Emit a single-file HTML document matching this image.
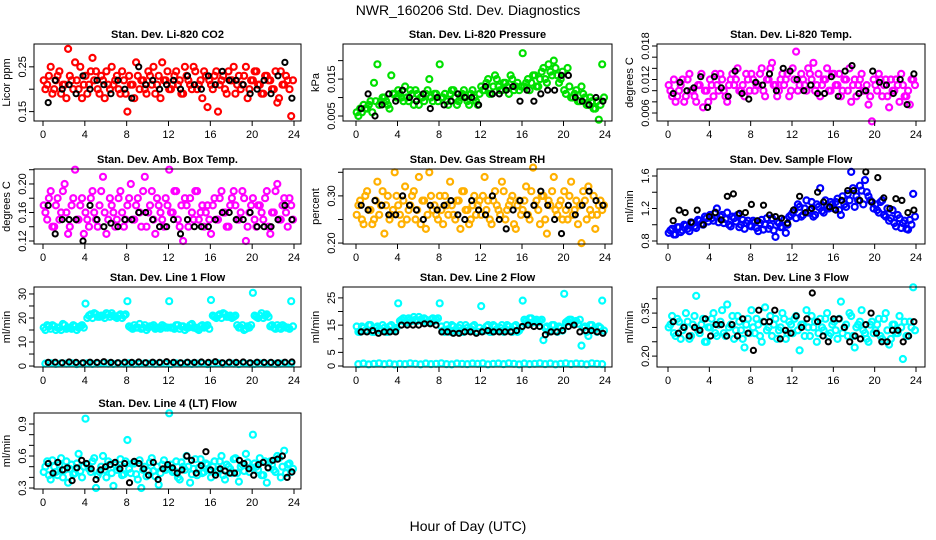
<!DOCTYPE html>
<html><head><meta charset="utf-8"><style>
html,body{margin:0;padding:0;background:#fff;}
svg{display:block;font-family:"Liberation Sans",sans-serif;}
</style></head><body>
<svg id="chart" width="936" height="540" viewBox="0 0 936 540">
<text x="468" y="15" text-anchor="middle" font-size="14">NWR_160206 Std. Dev. Diagnostics</text>
<text x="468" y="531" text-anchor="middle" font-size="14">Hour of Day (UTC)</text>
</svg>
<script>
const hourTicks = [0,4,8,12,16,20,24];
const co2Vals = [.22,.21,.25,.20,.23,.19,.21,.29,.22,.26,.20,.18,.23,.21,.27,.24,.19,.22,.24,.20,.21,.23,.19,.22,.15,.21,.18,.23,.22,.20,.24,.21,.19,.23,.26,.22,.20,.21,.24,.22,.19,.23,.21,.25,.20,.22,.24,.16,.21,.23,.15,.22,.20,.24,.22,.19,.23,.21,.25,.20,.22,.24,.21,.19,.23,.22,.20,.17,.24,.21,.22,.14];
const co2ValsB = [.20,.23,.19,.22,.24,.21,.18,.23,.20,.22,.25,.21,.19,.24,.22,.20,.23,.18,.21,.25,.22,.20,.24,.19,.23,.21,.26,.20,.22,.19,.23,.25,.21,.18,.22,.24,.20,.23,.21,.19,.25,.22,.20,.24,.21,.18,.23,.22,.20,.24,.21,.23,.19,.22,.25,.21,.20,.23,.18,.22,.24,.21,.19,.23,.22,.20,.24,.18,.21,.23,.20,.22];
const co2Black = [.17,.22,.20,.21,.19,.23,.20,.22,.21,.19,.22,.20,.18,.25,.21,.22,.20,.21,.22,.20,.23,.21,.20,.23,.21,.24,.22,.22,.21,.19,.20,.22,.19,.23,.26,.18];
const presVals = [.006,.007,.008,.007,.009,.014,.019,.009,.010,.008,.016,.011,.012,.010,.013,.009,.011,.012,.008,.010,.011,.015,.009,.011,.019,.010,.009,.011,.012,.008,.010,.012,.009,.011,.010,.008,.013,.012,.015,.011,.016,.013,.012,.014,.011,.015,.013,.012,.022,.014,.012,.016,.013,.015,.018,.014,.017,.020,.016,.015,.012,.018,.010,.011,.009,.013,.010,.008,.009,.007,.004,.019];
const presValsB = [.005,.006,.007,.008,.006,.009,.008,.010,.009,.007,.011,.010,.011,.009,.010,.012,.008,.011,.010,.009,.012,.010,.011,.009,.010,.011,.008,.012,.010,.009,.011,.010,.008,.012,.009,.011,.012,.014,.011,.013,.015,.012,.014,.013,.016,.012,.014,.013,.013,.015,.014,.016,.013,.017,.015,.019,.016,.018,.014,.017,.011,.013,.010,.012,.009,.011,.008,.010,.007,.009,.008,.010];
const presBlack = [.007,.011,.005,.008,.011,.009,.012,.010,.009,.011,.007,.010,.008,.009,.011,.010,.010,.008,.013,.011,.011,.012,.013,.009,.012,.009,.011,.012,.012,.016,.016,.010,.009,.008,.010,.009];
const tempVals = [.011,.009,.008,.010,.012,.009,.013,.010,.008,.011,.007,.010,.012,.009,.011,.013,.010,.008,.012,.011,.014,.010,.009,.012,.013,.010,.011,.014,.009,.012,.015,.011,.010,.013,.012,.009,.014,.017,.011,.012,.010,.013,.015,.011,.009,.012,.014,.010,.013,.011,.009,.012,.010,.008,.012,.011,.013,.010,.0075,.0045,.011,.013,.009,.012,.007,.010,.012,.008,.011,.009,.0075,.012];
const tempValsB = [.010,.012,.009,.011,.008,.012,.010,.009,.011,.013,.010,.008,.011,.013,.010,.012,.009,.011,.013,.012,.010,.011,.013,.010,.012,.011,.013,.010,.012,.014,.011,.009,.012,.011,.013,.010,.012,.010,.013,.011,.014,.012,.010,.013,.011,.012,.010,.013,.011,.013,.010,.012,.014,.011,.009,.012,.010,.011,.009,.012,.010,.012,.011,.009,.012,.010,.011,.013,.009,.010,.012,.011];
const tempBlack = [.0095,.0115,.010,.0105,.0125,.007,.0125,.0105,.009,.0135,.0095,.0085,.0115,.011,.013,.010,.014,.0135,.012,.010,.011,.0095,.0095,.0125,.009,.0135,.0145,.0095,.010,.0135,.0115,.011,.0095,.012,.0075,.013];
const boxVals = [.17,.15,.19,.14,.18,.16,.20,.13,.17,.22,.15,.18,.16,.14,.19,.15,.17,.21,.13,.18,.16,.15,.19,.14,.17,.20,.15,.18,.14,.21,.16,.19,.13,.17,.15,.18,.22,.16,.19,.14,.12,.17,.18,.15,.19,.16,.14,.17,.13,.18,.15,.19,.16,.14,.18,.17,.15,.19,.12,.16,.18,.14,.17,.15,.19,.13,.16,.20,.15,.18,.14,.17];
const boxValsB = [.16,.18,.14,.17,.15,.19,.16,.14,.18,.15,.17,.13,.15,.18,.16,.14,.19,.16,.15,.17,.14,.18,.16,.15,.18,.15,.17,.16,.19,.14,.17,.15,.18,.16,.14,.17,.16,.19,.15,.17,.18,.14,.16,.19,.15,.17,.16,.15,.17,.15,.18,.16,.14,.17,.19,.15,.16,.18,.14,.17,.15,.17,.16,.18,.14,.16,.19,.15,.17,.16,.18,.15];
const boxBlack = [.17,.13,.15,.15,.15,.12,.17,.15,.14,.145,.14,.15,.15,.16,.16,.15,.14,.14,.15,.13,.15,.14,.14,.14,.15,.16,.16,.15,.15,.16,.14,.14,.14,.15,.17,.15];
const rhVals = [.26,.29,.24,.31,.27,.25,.33,.28,.22,.30,.26,.35,.28,.24,.32,.27,.30,.25,.34,.29,.23,.35,.27,.26,.30,.24,.28,.33,.26,.29,.23,.31,.27,.25,.30,.28,.26,.34,.29,.24,.31,.27,.33,.25,.28,.30,.23,.29,.27,.32,.25,.36,.29,.24,.30,.22,.28,.34,.26,.29,.31,.25,.33,.27,.24,.20,.29,.32,.26,.23,.28,.27];
const rhValsB = [.28,.25,.30,.27,.24,.29,.26,.31,.28,.25,.27,.30,.26,.29,.25,.28,.31,.27,.24,.29,.26,.30,.28,.25,.27,.30,.26,.28,.25,.29,.31,.27,.24,.28,.26,.29,.30,.27,.25,.29,.28,.26,.31,.27,.29,.24,.28,.26,.29,.26,.31,.28,.27,.30,.25,.29,.31,.27,.28,.25,.27,.30,.26,.29,.28,.31,.25,.27,.30,.26,.29,.28];
const rhBlack = [.28,.27,.29,.28,.26,.26,.30,.28,.27,.25,.28,.27,.28,.29,.26,.25,.29,.27,.26,.30,.25,.23,.27,.29,.26,.28,.31,.28,.25,.22,.28,.26,.28,.31,.29,.28];
const flowVals = [.90,.95,.88,.97,.93,.99,.92,1.02,.96,1.05,1.00,1.08,1.12,1.05,1.20,1.10,1.02,1.15,.98,1.08,1.12,1.00,.95,1.05,.98,1.03,.92,1.06,1.00,.95,1.08,.85,1.02,.97,.90,1.10,1.15,1.08,1.22,1.12,1.30,1.18,1.10,1.25,1.45,1.15,1.22,1.28,1.20,1.32,1.12,1.25,1.38,1.65,1.22,1.30,1.42,1.55,1.35,1.28,1.25,1.15,1.30,1.10,1.05,1.18,.98,1.08,1.02,.95,1.06,1.38];
const flowValsB = [.93,.88,.97,.91,1.00,.95,1.03,.98,1.06,1.01,1.10,1.04,1.08,1.15,1.03,1.12,1.07,1.00,1.10,1.04,.97,1.06,1.02,.99,1.05,.96,1.02,.94,1.08,.99,.93,1.04,.97,1.06,1.00,1.12,1.18,1.25,1.10,1.20,1.15,1.28,1.12,1.22,1.17,1.30,1.20,1.25,1.28,1.18,1.35,1.22,1.30,1.45,1.35,1.48,1.25,1.40,1.30,1.20,1.18,1.28,1.12,1.20,1.08,1.02,1.12,.96,1.05,.94,1.00,1.10];
const flowBlack = [1.05,1.18,1.15,1.03,1.18,1.00,1.10,1.15,1.06,1.35,1.38,1.14,1.15,1.25,1.05,1.24,1.12,1.10,1.08,1.02,1.18,1.35,1.15,1.20,1.40,1.28,1.22,1.18,1.30,1.42,1.42,1.30,1.65,1.28,1.58,1.33,1.20,1.32,1.30,1.15,1.18];
const line1Vals = [16,17,15.5,16.5,16,15,17,16,15.5,16.5,16,17,26,21,20,21.5,20.5,21,22,20.5,21,20,21.5,21,27,16,17,16,15.5,17,16,16.5,15.5,16,17,16,27,16,17,15.5,16.5,16,17,16,15.5,16.5,16,17,27.5,20.5,21,20,21.5,20.5,20,21,16,17,15.5,16,30.5,20.5,21,20,21.5,16.5,16,17,15.5,16.5,16,27];
const line1ValsB = [15,16.5,17,15,16,17.5,15.5,16,17,15,16.5,16,20,21.5,22,20.5,21,20,21.5,22,20.5,21,20,21.5,16.5,15.5,16,17.5,16,15,16.5,17,16,15.5,16.5,16,16,15.5,17,16.5,15,16,17.5,16,15,17,16.5,15.5,21,20,21.5,22,20.5,21,20.5,17,16,15,16.5,17,21,20,22,21,20.5,17,15.5,16,17,16,15.5,16.5];
const line1Low = [1,1.2,0.9,1.1,1,1.2,0.8,1,1.1,0.9,1,1.2,1,0.9,1.1,1,1.2,0.9,1,1.1,1,0.9,1.2,1,0.8,1.1,1,1.2,0.9,1,1.1,0.8,1,1.2,0.9,1.1,1,0.8,1.2,1,0.9,1.1,1,1.2,0.9,1,1.1,1];
const line1Black = [1.5,1.6,1.4,1.7,1.5,1.4,1.6,1.5,1.8,1.5,1.4,1.6,1.5,1.7,1.4,1.6,1.5,1.8,1.5,1.4,1.6,1.5,1.7,1.5,1.8,1.4,1.6,1.5,1.7,1.4,1.6,1.5,1.5,1.4,1.6,1.7];
const line2Vals = [14.5,12.5,14,13,15,12.5,14.5,13,14,12.5,15,13.5,23,17,16,17.5,16.5,17,18,16.5,17,16,17.5,17,23,13,15,12.5,14.5,13,15,12.5,14,13.5,15,12.5,22,13,15,12.5,14.5,13,15,13.5,14.5,12.5,15,13,24,16.5,17.5,16,17,16.5,9.5,14.5,13,15,12.5,14,26.5,16.5,17,16,15.5,7.5,14.5,11,15,13.5,14.5,24];
const line2ValsB = [12.5,14.5,13,15,12.5,14,13.5,15,12.5,14.5,13,14,16.5,17.5,16,17,18,16.5,17,17.5,16,17,16.5,17.5,14.5,12.5,13.5,15,13,14,12.5,15,13,14.5,12.5,14,13,14.5,12.5,15,13.5,14,12.5,15,13,14.5,12.5,14,17,16,17.5,16.5,16,17,14,12.5,15,13,14.5,13,16,17,15.5,16.5,17,14,12.5,15,13.5,12.5,14,13];
const line2Low = [0.7,0.9,0.6,0.8,1,0.7,0.9,0.6,0.8,0.7,1,0.8,0.6,0.9,0.7,0.8,1,0.7,0.6,0.9,0.8,0.7,0.9,0.8,1,0.6,0.8,0.9,0.7,1,0.8,0.6,0.9,0.7,0.8,1,0.7,0.9,0.6,0.8,1,0.7,0.9,0.8,0.6,1,0.8,0.7];
const line2Black = [12.5,12.5,13,12,12.5,12.5,12.5,15,15,15,15,15.5,15.5,15,12.5,12.5,12,12,12.5,12.5,12,12.5,13,12.5,12.5,12.5,12.5,13,14.5,15,14.5,14.5,11.5,12.5,12.5,13,14.5,15,12.5,13,13,12.5,12];
const line3Vals = [.30,.34,.27,.32,.29,.35,.26,.31,.41,.28,.33,.25,.30,.35,.27,.32,.28,.38,.31,.26,.34,.29,.23,.33,.36,.28,.31,.25,.37,.30,.27,.33,.29,.35,.26,.32,.28,.34,.22,.31,.36,.27,.30,.25,.33,.29,.35,.28,.32,.26,.39,.30,.27,.34,.23,.31,.36,.28,.25,.32,.29,.33,.26,.35,.24,.31,.28,.34,.19,.27,.32,.44];
const line3ValsB = [.31,.28,.33,.26,.30,.32,.27,.34,.29,.31,.25,.30,.33,.28,.31,.36,.27,.30,.34,.29,.32,.26,.31,.28,.30,.33,.27,.32,.29,.34,.31,.26,.30,.33,.28,.31,.33,.29,.31,.27,.30,.34,.32,.28,.30,.33,.27,.31,.29,.33,.28,.31,.35,.27,.30,.32,.29,.26,.31,.28,.31,.27,.33,.29,.26,.31,.28,.30,.32,.27,.30,.29];
const line3Black = [.32,.28,.30,.27,.30,.29,.33,.27,.31,.31,.27,.31,.27,.33,.28,.22,.36,.32,.32,.36,.26,.29,.28,.34,.30,.33,.42,.32,.27,.25,.33,.33,.30,.25,.27,.26,.31,.35,.28,.25,.25,.29,.29,.25,.27,.32];
const line4Vals = [.45,.55,.38,.50,.42,.58,.47,.35,.52,.44,.62,.40,.95,.48,.55,.30,.45,.60,.40,.52,.32,.47,.57,.43,.75,.44,.53,.38,.30,.50,.46,.58,.41,.33,.52,.47,1.00,.45,.55,.38,.50,.60,.35,.48,.42,.57,.45,.52,.40,.55,.47,.60,.38,.50,.44,.58,.36,.52,.62,.45,.80,.50,.58,.42,.35,.55,.47,.60,.40,.65,.52,.45];
const line4ValsB = [.50,.42,.56,.45,.52,.40,.55,.48,.43,.53,.46,.50,.52,.45,.58,.42,.50,.47,.55,.44,.52,.49,.42,.55,.48,.53,.43,.56,.47,.41,.54,.46,.50,.44,.56,.49,.52,.46,.40,.54,.47,.50,.43,.57,.49,.44,.53,.47,.50,.45,.55,.42,.52,.48,.57,.44,.50,.46,.54,.49,.53,.47,.42,.55,.49,.52,.45,.58,.50,.44,.53,.48];
const line4Black = [.53,.44,.54,.47,.49,.37,.49,.56,.53,.48,.38,.47,.50,.52,.54,.48,.53,.35,.55,.53,.48,.42,.54,.38,.48,.52,.49,.44,.47,.60,.56,.44,.51,.64,.47,.42,.48,.46,.44,.44,.56,.53,.48,.42,.52,.54,.49,.56,.57,.60,.40,.45];

const NS = "http://www.w3.org/2000/svg";
const svg = document.getElementById('chart');
function mk(tag, attrs, parent){
  const e = document.createElementNS(NS, tag);
  for (const k in attrs) e.setAttribute(k, attrs[k]);
  (parent||svg).appendChild(e);
  return e;
}
const cols = [{l:34,r:301,x0:43,x1:294},{l:343,r:612,x0:356,x1:605},{l:657,r:925,x0:668,x1:916}];
const rows = [{t:44,b:121},{t:169,b:244},{t:287,b:367},{t:413,b:489}];

const panels = [
 {id:'co2',title:'Stan. Dev. Li-820 CO2',ylab:'Licor ppm',c:0,r:0,lo:0.129,hi:0.301,ticks:[.15,.20,.25],labels:['0.15','','0.25'],color:'#ff0000',series:[co2Vals,co2ValsB],black:co2Black},
 {id:'pressure',title:'Stan. Dev. Li-820 Pressure',ylab:'kPa',c:1,r:0,lo:0.00365,hi:0.0245,ticks:[.005,.010,.015,.020],labels:['0.005','','0.015',''],color:'#00e000',series:[presVals,presValsB],black:presBlack},
 {id:'temp',title:'Stan. Dev. Li-820 Temp.',ylab:'degrees C',c:2,r:0,lo:0.00457,hi:0.01836,ticks:[.006,.008,.010,.012,.014,.016,.018],labels:['0.006','','','0.012','','','0.018'],color:'#ff00ff',series:[tempVals,tempValsB],black:tempBlack},
 {id:'amb-box',title:'Stan. Dev. Amb. Box Temp.',ylab:'degrees C',c:0,r:1,lo:0.1158,hi:0.221,ticks:[.12,.14,.16,.18,.20,.22],labels:['0.12','','0.16','','0.20',''],color:'#ff00ff',series:[boxVals,boxValsB],black:boxBlack},
 {id:'rh',title:'Stan. Dev. Gas Stream RH',ylab:'percent',c:1,r:1,lo:0.198,hi:0.357,ticks:[.20,.25,.30,.35],labels:['0.20','','0.30',''],color:'#ffb000',series:[rhVals,rhValsB],black:rhBlack},
 {id:'sample-flow',title:'Stan. Dev. Sample Flow',ylab:'ml/min',c:2,r:1,lo:0.763,hi:1.686,ticks:[.8,1.0,1.2,1.4,1.6],labels:['0.8','','1.2','','1.6'],color:'#0000ff',series:[flowVals,flowValsB],black:flowBlack},
 {id:'line1',title:'Stan. Dev. Line 1 Flow',ylab:'ml/min',c:0,r:2,lo:-0.4,hi:32.9,ticks:[0,5,10,15,20,25,30],labels:['0','','10','','20','','30'],color:'#00ffff',series:[line1Vals,line1ValsB,line1Low],black:line1Black},
 {id:'line2',title:'Stan. Dev. Line 2 Flow',ylab:'ml/min',c:1,r:2,lo:-0.37,hi:29,ticks:[0,5,10,15,20,25],labels:['0','5','','15','','25'],color:'#00ffff',series:[line2Vals,line2ValsB,line2Low],black:line2Black},
 {id:'line3',title:'Stan. Dev. Line 3 Flow',ylab:'ml/min',c:2,r:2,lo:0.162,hi:0.441,ticks:[.20,.25,.30,.35,.40],labels:['0.20','','','0.35',''],color:'#00ffff',series:[line3Vals,line3ValsB],black:line3Black},
 {id:'line4',title:'Stan. Dev. Line 4 (LT) Flow',ylab:'ml/min',c:0,r:3,lo:0.291,hi:1.003,ticks:[.3,.4,.5,.6,.7,.8,.9],labels:['0.3','','','0.6','','','0.9'],color:'#00ffff',series:[line4Vals,line4ValsB],black:line4Black}
];

panels.forEach(p=>{
  const C = cols[p.c], R = rows[p.r];
  const g = mk('g',{});
  
  
  const xs = h => C.x0 + (C.x1 - C.x0) * h / 24;
  const ys = v => R.b - (R.b - R.t) * (v - p.lo) / (p.hi - p.lo);
  const t = mk('text',{x:(C.l+C.r)/2,y:R.t-6,'text-anchor':'middle','font-size':11,'font-weight':'bold'},g);
  t.textContent = p.title;
  
  
  p.series.forEach((arr,si)=>{
    const sg = mk('g',{fill:'none',stroke:p.color,'stroke-width':2.2},g);
    
    
    const off = [0.2,0.7,0.45][si];
    arr.forEach((v,i)=>{
      const h = (i + off) * 24 / arr.length;
      const c = mk('circle',{cx:xs(h).toFixed(1),cy:ys(v).toFixed(1),r:3},sg);
      
      
    });
  });
  const bg = mk('g',{fill:'none',stroke:'#000','stroke-width':2},g);
  
  
  p.black.forEach((v,i)=>{
    const h = 0.5 + i * 23.3 / (p.black.length - 1);
    const c = mk('circle',{cx:xs(h).toFixed(1),cy:ys(v).toFixed(1),r:2.6},bg);
    
    
  });
  const fr = mk('rect',{x:C.l,y:R.t,width:C.r-C.l,height:R.b-R.t,fill:'none',stroke:'#000','stroke-width':1},g);
  
  
  hourTicks.forEach(h=>{
    const x = xs(h);
    mk('line',{x1:x,x2:x,y1:R.b,y2:R.b+5,stroke:'#000'},g);
    const tl = mk('text',{x:x,y:R.b+17,'text-anchor':'middle','font-size':11},g);
    tl.textContent = h;
    
    
  });
  p.ticks.forEach((v,i)=>{
    const y = ys(v);
    mk('line',{x1:C.l-5,x2:C.l,y1:y,y2:y,stroke:'#000'},g);
    if (p.labels[i]) {
      const yl = mk('text',{x:C.l-8,y:y,'text-anchor':'middle','font-size':11,transform:`rotate(-90 ${C.l-8} ${y})`},g);
      yl.textContent = p.labels[i];
      
      
    }
  });
  const yx = C.l - 24, yy = (R.t + R.b) / 2;
  const yt = mk('text',{x:yx,y:yy,'text-anchor':'middle','font-size':11,transform:`rotate(-90 ${yx} ${yy})`},g);
  yt.textContent = p.ylab;
  
  
});
</script>
</body></html>
